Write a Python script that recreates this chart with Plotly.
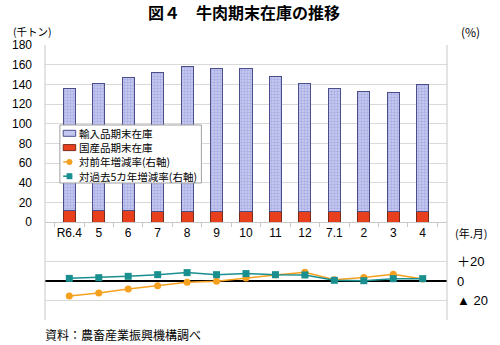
import plotly.graph_objects as go

months = ["R6.4", "5", "6", "7", "8", "9", "10", "11", "12", "7.1", "2", "3", "4"]
domestic = [11.5, 12, 11.5, 11, 10.5, 11, 11, 10.8, 10.5, 10.5, 10.5, 10.5, 10.2]
imported = [124.5, 129, 135.5, 141, 147.5, 145, 145, 137.2, 130.5, 125.5, 122.5, 121.5, 129.8]
yoy = [-15.5, -12.4, -8.2, -4.8, -1.4, -0.3, 3.1, 6.2, 9.0, 1.4, 3.5, 6.9, 2.0]
vs5y = [2.7, 3.4, 4.8, 6.5, 8.6, 6.5, 7.6, 6.5, 6.2, 0.7, 0.3, 2.4, 2.4]
left_ticks = [0, 20, 40, 60, 80, 100, 120, 140, 160, 180]
right_ticks = [-40, -20, 0, 20, 40]
right_labels = ["", "▲ 20", "0", "＋20", ""]
legend_names = ["輸入品期末在庫", "国産品期末在庫", "対前年増減率(右軸)", "対過去5カ年増減率(右軸)"]

FONT = "Liberation Sans, Arial, Noto Sans CJK JP"
JP = "Noto Sans CJK JP, Liberation Sans"
GRID = "#d9d9d9"
AXL = "#c8c8c8"
C_IMP, C_IMP_LINE = "#c3c7ef", "#4a4f8a"
C_DOM, C_DOM_LINE = "#e8401c", "#7a2a1a"
C_YOY, C_5Y = "#f5a01e", "#1a8f8f"
EN = "\u2002"
THIN = "\u2009"

# plot area in pixels: x 36..455, y 45..320
def px(x):
    return (x - 36) / 419

def py(y):
    return (320 - y) / 275

fig = go.Figure()
fig.add_trace(go.Bar(
    x=months, y=domestic, name=legend_names[1],
    marker=dict(color=C_DOM, line=dict(color=C_DOM_LINE, width=1)),
    xaxis="x", yaxis="y"))
fig.add_trace(go.Bar(
    x=months, y=imported, name=legend_names[0],
    marker=dict(color=C_IMP, line=dict(color=C_IMP_LINE, width=1),
                pattern=dict(shape="+", fgcolor="#8990d4", size=3, solidity=0.35)),
    xaxis="x", yaxis="y"))
fig.add_trace(go.Scatter(
    x=months, y=yoy, name=legend_names[2], mode="lines+markers",
    line=dict(color=C_YOY, width=1.5), marker=dict(symbol="circle", size=7, color=C_YOY),
    xaxis="x2", yaxis="y2"))
fig.add_trace(go.Scatter(
    x=months, y=vs5y, name=legend_names[3], mode="lines+markers",
    line=dict(color=C_5Y, width=1.5), marker=dict(symbol="square", size=7, color=C_5Y),
    xaxis="x2", yaxis="y2"))

fig.update_layout(
    width=500, height=345,
    margin=dict(l=36, r=45, t=45, b=25),
    paper_bgcolor="white", plot_bgcolor="white",
    font=dict(family=FONT, size=12, color="black"),
    barmode="stack", bargap=0.59,
    showlegend=False,
    xaxis=dict(domain=[0, 1], anchor="y", type="category", tickangle=0,
               tickson="boundaries", ticks="outside", ticklen=4, tickcolor=AXL,
               showline=True, linecolor=AXL, showgrid=False,
               tickfont=dict(size=12, family=FONT)),
    yaxis=dict(domain=[py(222), 1], range=[0, 180],
               tickvals=left_ticks, ticktext=[f"{v}{EN}{EN}" for v in left_ticks],
               showgrid=True, gridcolor=GRID, showline=False, zeroline=False,
               ticks="", tickfont=dict(size=12, family=FONT)),
    xaxis2=dict(domain=[0, 1], anchor="y2", type="category", matches="x",
                showticklabels=False, showgrid=False, showline=False, ticks=""),
    yaxis2=dict(domain=[0, py(242)], range=[-40, 40], side="right", anchor="x2",
                tickvals=right_ticks,
                ticktext=[(EN + THIN + t) if t else "" for t in right_labels],
                showgrid=True, gridcolor=GRID, zeroline=True, zerolinecolor="black",
                zerolinewidth=2, showline=False, ticks="",
                tickfont=dict(size=13, family=FONT)),
)

# vertical frame lines spanning both panels
for xv in (0, 1):
    fig.add_shape(type="line", xref="paper", yref="paper", x0=xv, x1=xv, y0=0, y1=1,
                  line=dict(color=AXL, width=1), layer="above")

# custom compact legend
fig.add_shape(type="rect", xref="paper", yref="paper", x0=px(51.5), x1=px(199), y0=py(183), y1=py(125),
              fillcolor="white", line=dict(color="#a0a0a0", width=1), layer="above")
rows = [133.3, 147.6, 161.9, 176.2]
fig.add_shape(type="rect", xref="paper", yref="paper", x0=px(55), x1=px(68), y0=py(rows[0] + 3), y1=py(rows[0] - 3),
              fillcolor=C_IMP, line=dict(color=C_IMP_LINE, width=1), layer="above")
fig.add_shape(type="rect", xref="paper", yref="paper", x0=px(55), x1=px(68), y0=py(rows[1] + 3), y1=py(rows[1] - 3),
              fillcolor=C_DOM, line=dict(color=C_DOM_LINE, width=1), layer="above")
for r, c, kind in ((rows[2], C_YOY, "circle"), (rows[3], C_5Y, "rect")):
    fig.add_shape(type="line", xref="paper", yref="paper", x0=px(55), x1=px(68), y0=py(r), y1=py(r),
                  line=dict(color=c, width=1.5, dash="dash"), layer="above")
    fig.add_shape(type=kind, xref="paper", yref="paper", x0=px(58.5), x1=px(64.5), y0=py(r + 3), y1=py(r - 3),
                  fillcolor=c, line=dict(color=c, width=0), layer="above")
for r, name in zip(rows, legend_names):
    fig.add_annotation(text=name, xref="paper", yref="paper", x=px(69), y=py(r),
                       xanchor="left", yanchor="middle", showarrow=False,
                       font=dict(family=JP, size=10.5))

fig.add_annotation(text="<b>図４　牛肉期末在庫の推移</b>", xref="paper", yref="paper",
                   x=px(243), y=py(12), xanchor="center", yanchor="middle",
                   showarrow=False, font=dict(family=JP, size=16))
fig.add_annotation(text="(千トン)", xref="paper", yref="paper", x=px(1), y=py(32),
                   xanchor="left", yanchor="middle", showarrow=False, font=dict(family=JP, size=10.5))
fig.add_annotation(text="(%)", xref="paper", yref="paper", x=px(467), y=py(32),
                   xanchor="left", yanchor="middle", showarrow=False, font=dict(family=JP, size=12))
fig.add_annotation(text="(年.月)", xref="paper", yref="paper", x=px(461), y=py(233),
                   xanchor="left", yanchor="middle", showarrow=False, font=dict(family=JP, size=11))
fig.add_annotation(text="資料：農畜産業振興機構調べ", xref="paper", yref="paper", x=px(34), y=py(334),
                   xanchor="left", yanchor="middle", showarrow=False, font=dict(family=JP, size=12))

fig.write_html("out.html")
